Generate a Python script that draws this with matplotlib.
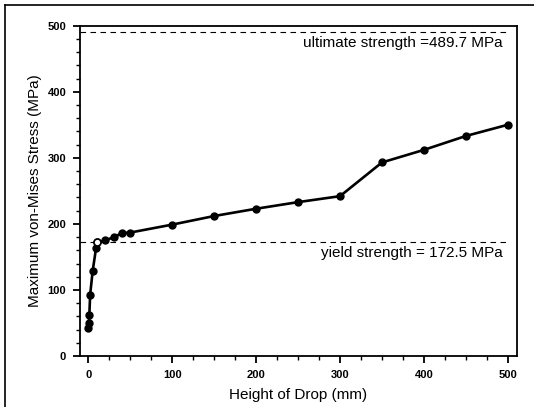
import matplotlib
matplotlib.use("Agg")
import matplotlib.pyplot as plt
from matplotlib.lines import Line2D
from matplotlib.ticker import MultipleLocator

plt.rcParams['font.family'] = ['Liberation Sans', 'DejaVu Sans']

height_mm = [0, 0.5, 1, 2, 5, 9, 10, 20, 30, 40, 50, 100, 150, 200, 250, 300, 350, 400, 450, 500]
stress_mpa = [42, 50, 62, 93, 129, 163, 172, 175, 180, 186, 187, 199, 212, 223, 233, 242, 293, 312, 333, 350]
open_index = 6
ultimate = 489.7
yield_s = 172.5
ultimate_label = "ultimate strength =489.7 MPa"
yield_label = "yield strength = 172.5 MPa"

fig = plt.figure(figsize=(5.34, 4.07), dpi=100)
ax = fig.add_axes([0.150, 0.125, 0.818, 0.812])

ax.plot(height_mm, stress_mpa, color='black', lw=1.9, marker='o', ms=5,
        mfc='black', mec='black', zorder=3)
ax.plot([height_mm[open_index]], [stress_mpa[open_index]], 'o', ms=5,
        mfc='white', mec='black', mew=1.2, zorder=4)

ax.plot([-10, 500], [ultimate, ultimate], color='black', lw=0.8, dashes=(5, 4))
ax.plot([-10, 500], [yield_s, yield_s], color='black', lw=0.8, dashes=(5, 4))

ax.text(494, ultimate - 6, ultimate_label, ha='right', va='top', fontsize=11)
ax.text(494, yield_s - 6, yield_label, ha='right', va='top', fontsize=11)

ax.set_xlim(-10, 511)
ax.set_ylim(0, 500)
ax.xaxis.set_major_locator(MultipleLocator(100))
ax.xaxis.set_minor_locator(MultipleLocator(25))
ax.yaxis.set_major_locator(MultipleLocator(100))
ax.yaxis.set_minor_locator(MultipleLocator(20))
ax.tick_params(which='major', direction='out', length=5, width=1.3, labelsize=8, pad=5)
ax.tick_params(which='minor', direction='out', length=3, width=1)
for lab in ax.get_xticklabels() + ax.get_yticklabels():
    lab.set_fontweight('bold')
for s in ax.spines.values():
    s.set_linewidth(1.3)

ax.set_xlabel("Height of Drop (mm)", fontsize=11, labelpad=6)
ax.set_ylabel("Maximum von-Mises Stress (MPa)", fontsize=11, labelpad=4)

fig.add_artist(Line2D([5/534, 1], [402/407, 402/407], color='black', lw=1.2))
fig.add_artist(Line2D([5/534, 5/534], [0, 402/407], color='black', lw=1.2))

fig.savefig("out.png", dpi=100)
